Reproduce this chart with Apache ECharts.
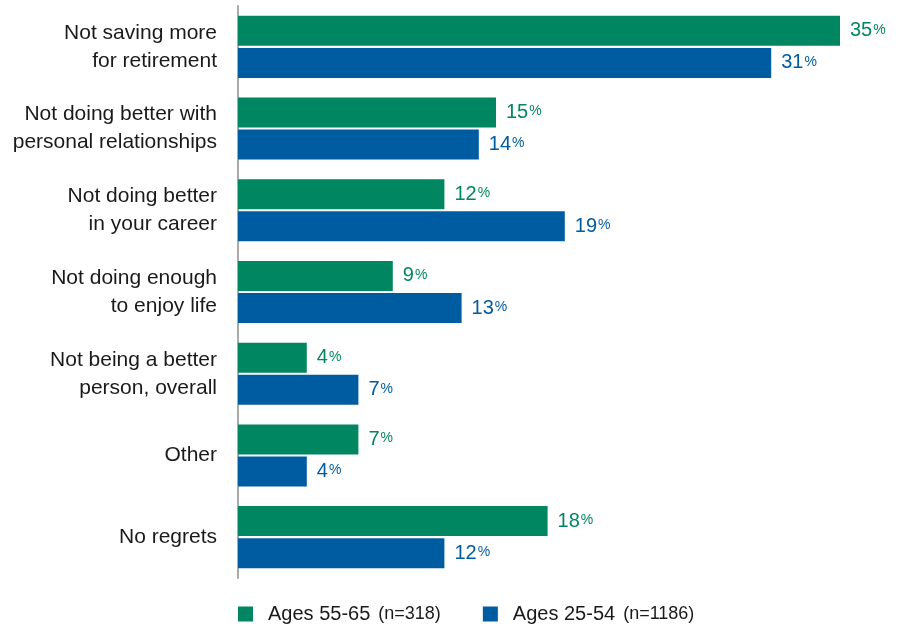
<!DOCTYPE html>
<html>
<head>
<meta charset="utf-8">
<script src="https://cdn.jsdelivr.net/npm/echarts@6/dist/echarts.min.js"></script>
<style>
  html, body { margin: 0; padding: 0; background: #fff; }
  #chart { width: 901px; height: 627px; }
</style>
</head>
<body>
<div id="chart"></div>
<script>
// Biggest regrets, share of respondents by age group
var categories = [
  'Not saving more\nfor retirement',
  'Not doing better with\npersonal relationships',
  'Not doing better\nin your career',
  'Not doing enough\nto enjoy life',
  'Not being a better\nperson, overall',
  'Other',
  'No regrets'
];
var olderValues = [35, 15, 12, 9, 4, 7, 18];
var youngerValues = [31, 14, 19, 13, 7, 4, 12];
var olderName = 'Ages 55-65';
var olderSample = '(n=318)';
var youngerName = 'Ages 25-54';
var youngerSample = '(n=1186)';

var GREEN = '#008761';
var BLUE = '#005ca1';
var FONT = '"Liberation Sans", Arial, Helvetica, sans-serif';

function valueLabel(color) {
  return {
    show: true,
    position: 'right',
    distance: 10,
    formatter: function (p) { return '{v|' + p.value + '}{p|%}'; },
    rich: {
      v: { fontSize: 20, color: color, fontFamily: FONT },
      p: { fontSize: 14, color: color, fontFamily: FONT, padding: [0, 0, 2, 1] }
    }
  };
}

var chart = echarts.init(document.getElementById('chart'), null, { renderer: 'canvas' });
chart.setOption({
  animation: false,
  backgroundColor: '#ffffff',
  grid: { left: 238, right: 61, top: 6, bottom: 49, containLabel: false },
  xAxis: {
    type: 'value',
    min: 0,
    max: 35,
    show: false
  },
  yAxis: {
    type: 'category',
    data: categories,
    inverse: true,
    axisLine: { show: true, lineStyle: { color: '#aaaaaa', width: 2 } },
    axisTick: { show: false },
    axisLabel: {
      margin: 21,
      fontSize: 21,
      lineHeight: 28,
      color: '#1a1a1a',
      fontFamily: FONT,
      align: 'right'
    },
    splitLine: { show: false }
  },
  legend: {
    left: 238,
    top: 604,
    padding: 0,
    itemWidth: 15,
    itemHeight: 15,
    itemGap: 42,
    itemTextGap: 5,
    icon: 'rect',
    data: [olderName, youngerName],
    formatter: function (name) {
      return name === olderName
        ? '{a|' + olderName + '}{b|' + olderSample + '}'
        : '{a|' + youngerName + '}{b|' + youngerSample + '}';
    },
    textStyle: {
      rich: {
        a: { fontSize: 20, lineHeight: 15, color: '#1a1a1a', fontFamily: FONT, padding: [0, 8, 0, 10] },
        b: { fontSize: 18, lineHeight: 15, color: '#1a1a1a', fontFamily: FONT }
      }
    }
  },
  series: [
    {
      name: olderName,
      type: 'bar',
      data: olderValues,
      itemStyle: { color: GREEN },
      barGap: '7%',
      barCategoryGap: '24%',
      label: valueLabel(GREEN)
    },
    {
      name: youngerName,
      type: 'bar',
      data: youngerValues,
      itemStyle: { color: BLUE },
      barGap: '7%',
      barCategoryGap: '24%',
      label: valueLabel(BLUE)
    }
  ]
});
</script>
</body>
</html>
